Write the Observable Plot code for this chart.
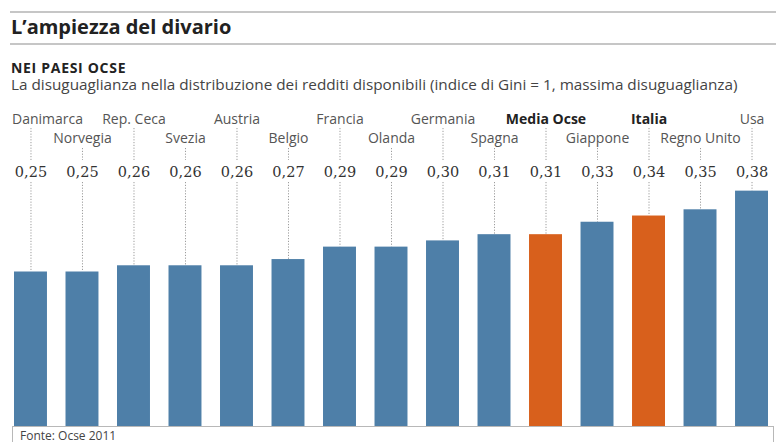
<!DOCTYPE html>
<html>
<head>
<meta charset="utf-8">
<script src="https://cdn.jsdelivr.net/npm/d3@7"></script>
<script src="https://cdn.jsdelivr.net/npm/@observablehq/plot@0.6"></script>
<style>
  body { margin: 0; width: 776px; height: 446px; position: relative; background: #fff; font-family: "Open Sans", sans-serif; overflow: hidden; }
  .abs { position: absolute; white-space: nowrap; }
  .hr { position: absolute; left: 10px; right: 0; height: 2px; background: #c6c6c6; }
  #title { left: 11px; top: 17px; font-size: 20px; line-height: 20px; font-weight: 700; color: #222; }
  #kicker { left: 11px; top: 61px; font-size: 14px; line-height: 14px; font-weight: 700; color: #222; letter-spacing: 0.7px; }
  #subtitle { left: 11px; top: 77px; font-size: 15.3px; line-height: 15px; color: #444; }
  #chart { position: absolute; left: 0; top: 100px; }
  #footer { position: absolute; left: 12px; top: 426px; width: 762px; height: 16px; box-sizing: border-box; border: 1px solid #b8b8b8; border-bottom: none; }
  #source { left: 20px; top: 430.3px; font-size: 12px; line-height: 12px; color: #444; }
</style>
</head>
<body>
<div class="hr" style="top:11px"></div>
<div class="abs" id="title">L’ampiezza del divario</div>
<div class="hr" style="top:43px"></div>
<div class="abs" id="kicker">NEI PAESI OCSE</div>
<div class="abs" id="subtitle">La disuguaglianza nella distribuzione dei redditi disponibili (indice di Gini = 1, massima disuguaglianza)</div>
<div id="chart"></div>
<div id="footer"></div>
<div class="abs" id="source">Fonte: Ocse 2011</div>
<script>
// ---- data ----
const countries = ["Danimarca", "Norvegia", "Rep. Ceca", "Svezia", "Austria", "Belgio", "Francia", "Olanda", "Germania", "Spagna", "Media Ocse", "Giappone", "Italia", "Regno Unito", "Usa"];
const gini = [0.25, 0.25, 0.26, 0.26, 0.26, 0.27, 0.29, 0.29, 0.30, 0.31, 0.31, 0.33, 0.34, 0.35, 0.38];
const highlighted = ["Media Ocse", "Italia"];

// ---- build table ----
const data = countries.map((c, i) => ({
  country: c,
  value: gini[i],
  row: i % 2,
  first: i === 0,
  hi: highlighted.includes(c),
  label: gini[i].toFixed(2).replace(".", ",")
}));

const blue = "#4e7fa8";
const orange = "#d8601c";
const yMax = 0.5;

const dotted = { stroke: "#9c9c9c", strokeWidth: 1, strokeDasharray: "1.2,1.6" };
const labelFont = { fontFamily: "Open Sans", fontSize: 14, lineAnchor: "bottom", frameAnchor: "top" };

const chart = Plot.plot({
  width: 776,
  height: 346,
  marginTop: 16,
  marginBottom: 19,
  marginLeft: 14,
  marginRight: 8,
  x: { domain: countries, paddingInner: 0.36, paddingOuter: 0, round: false, axis: null },
  y: { domain: [0, yMax], axis: null },
  style: { background: "transparent", overflow: "visible" },
  marks: [
    // dotted leaders from names to values
    Plot.ruleX(data.filter(d => d.row === 0), { x: "country", insetTop: 12, insetBottom: 267, ...dotted }),
    Plot.ruleX(data.filter(d => d.row === 1), { x: "country", insetTop: 32, insetBottom: 267, ...dotted }),
    // dotted leaders from values to bars
    Plot.ruleX(data, { x: "country", y1: () => yMax, y2: "value", insetTop: 66, ...dotted }),
    // bars
    Plot.barY(data, { x: "country", y: "value", fill: d => d.hi ? orange : blue }),
    // country names
    Plot.text(data.filter(d => d.first), { x: "country", text: "country", dy: 7.3, dx: -19, textAnchor: "start", fill: "#555", ...labelFont }),
    Plot.text(data.filter(d => d.row === 0 && !d.hi && !d.first), { x: "country", text: "country", dy: 7.3, fill: "#555", ...labelFont }),
    Plot.text(data.filter(d => d.row === 1 && !d.hi), { x: "country", text: "country", dy: 26.3, fill: "#555", ...labelFont }),
    Plot.text(data.filter(d => d.hi), { x: "country", text: "country", dy: 7.3, fill: "#222", fontWeight: 700, ...labelFont }),
    // values
    Plot.text(data, { x: "country", text: "label", dy: 60.7, fill: "#333", fontFamily: "DejaVu Serif", fontSize: 14.5, lineAnchor: "bottom", frameAnchor: "top" })
  ]
});
document.getElementById("chart").appendChild(chart);
</script>
</body>
</html>
